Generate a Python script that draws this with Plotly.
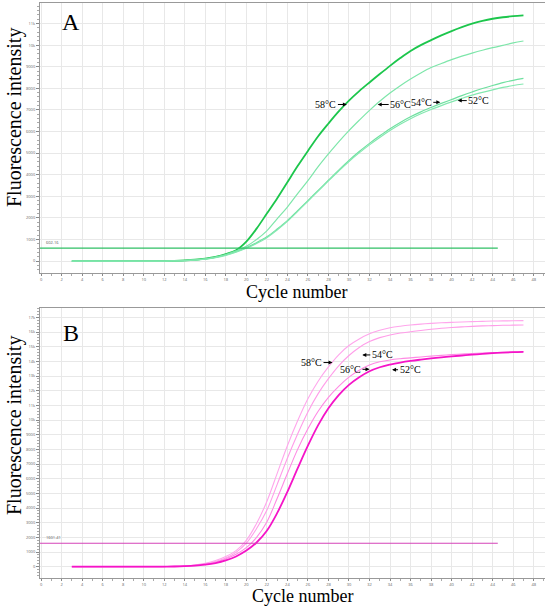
"""qPCR amplification curves at four annealing temperatures (panels A and B)."""

import plotly.graph_objects as go

# ---- data ------------------------------------------------------------------
cycles = list(range(3, 48))
temps = ["58°C", "56°C", "54°C", "52°C"]

# panel A (green)
a_58 = [0] * 10 + [10, 30, 60, 110, 190, 320, 500, 900, 1500, 2200, 2900, 3650, 4400, 5100,
                   5780, 6370, 6930, 7430, 7870, 8270, 8660, 9040, 9400, 9730, 10000, 10230,
                   10450, 10650, 10830, 10990, 11120, 11220, 11290, 11340, 11380]
a_56 = [0] * 10 + [8, 25, 55, 100, 180, 300, 470, 680, 1000, 1400, 1950, 2500, 3120, 3720,
                   4370, 4960, 5520, 6040, 6520, 6980, 7400, 7780, 8120, 8430, 8710, 8960,
                   9150, 9330, 9490, 9630, 9760, 9880, 9990, 10100, 10190]
a_54 = [0] * 10 + [8, 22, 50, 95, 170, 280, 430, 620, 850, 1120, 1480, 1870, 2330, 2800,
                   3270, 3740, 4210, 4660, 5070, 5450, 5800, 6130, 6420, 6680, 6910, 7110,
                   7300, 7480, 7660, 7830, 7990, 8130, 8260, 8370, 8460]
a_52 = [0] * 10 + [8, 20, 45, 90, 160, 265, 410, 590, 810, 1080, 1440, 1840, 2300, 2770,
                   3240, 3710, 4170, 4610, 5010, 5380, 5720, 6040, 6330, 6590, 6820, 7020,
                   7200, 7370, 7530, 7680, 7810, 7930, 8040, 8130, 8200]

# panel B (magenta)
b_58 = [0] * 9 + [10, 25, 60, 120, 230, 420, 700, 1100, 1800, 2950, 4450, 6350, 8250, 9950,
                  11450, 12650, 13620, 14450, 15080, 15530, 15880, 16120, 16290, 16400, 16480,
                  16540, 16590, 16630, 16660, 16690, 16710, 16730, 16750, 16760, 16770, 16780]
b_56 = [0] * 9 + [8, 18, 45, 90, 180, 320, 540, 850, 1300, 2000, 3050, 4650, 6350, 8000,
                  9400, 10600, 11550, 12300, 12930, 13400, 13750, 13970, 14100, 14180, 14240,
                  14300, 14360, 14410, 14460, 14500, 14540, 14570, 14600, 14620, 14640, 14660]
b_54 = [0] * 9 + [8, 20, 50, 100, 200, 360, 600, 980, 1600, 2600, 3850, 5600, 7400, 9050,
                  10550, 11800, 12820, 13700, 14400, 14950, 15350, 15620, 15800, 15930, 16020,
                  16110, 16190, 16260, 16310, 16350, 16390, 16420, 16440, 16460, 16470, 16480]
b_52 = [0] * 9 + [6, 15, 35, 70, 140, 250, 430, 700, 1100, 1650, 2450, 3650, 5100, 6700,
                  8250, 9650, 10800, 11700, 12400, 12920, 13330, 13600, 13780, 13920, 14030,
                  14120, 14200, 14270, 14340, 14400, 14460, 14510, 14560, 14600, 14630, 14650]

thresholds = [600, 1600]
threshold_labels = ["602.16", "1601.41"]
threshold_span = [-0.1, 44.5]

x_ticks = list(range(0, 50, 2))
a_ticks = list(range(0, 12001, 1000))
b_ticks = list(range(0, 17001, 1000))

# ---- styles ------------------------------------------------------------------
SERIF = "Liberation Serif, Times New Roman, serif"
GREEN = {"58°C": ("#1cc64c", 1.8), "56°C": ("#7ee6aa", 1.2),
         "54°C": ("#6fe0a0", 1.2), "52°C": ("#84e8b0", 1.2)}
PINK = {"58°C": ("#ffa6ec", 1.1), "56°C": ("#ff8ae4", 1.1),
        "54°C": ("#ff9de9", 1.1), "52°C": ("#f514c8", 1.8)}

fig = go.Figure()

for name, ys in zip(temps, [a_58, a_56, a_54, a_52]):
    color, width = GREEN[name]
    fig.add_trace(go.Scatter(x=cycles, y=ys, mode="lines", line=dict(color=color, width=width, shape="spline"),
                             name=name, xaxis="x", yaxis="y", showlegend=False))
for name, ys in zip(temps, [b_58, b_56, b_54, b_52]):
    color, width = PINK[name]
    fig.add_trace(go.Scatter(x=cycles, y=ys, mode="lines", line=dict(color=color, width=width, shape="spline"),
                             name=name, xaxis="x2", yaxis="y2", showlegend=False))

for (xa, ya), thr, col in zip([("x", "y"), ("x2", "y2")], thresholds, ["#2fbf64", "#d443b8"]):
    fig.add_trace(go.Scatter(x=threshold_span, y=[thr, thr], mode="lines", line=dict(color=col, width=1.2),
                             xaxis=xa, yaxis=ya, showlegend=False, hoverinfo="skip"))


def xaxis_style(anchor):
    return dict(
        range=[-0.1, 49.1], tickvals=x_ticks, ticks="outside", ticklen=2, tickcolor="#888",
        tickfont=dict(size=4, color="#666"), showgrid=True, gridcolor="#e8e8e8", gridwidth=1,
        zeroline=False, showline=True, linecolor="#999", linewidth=1, mirror=True,
        anchor=anchor, domain=[40 / 550, 545 / 550], automargin=False,
        minor=dict(dtick=1, ticklen=2, tickcolor="#aaa", showgrid=False),
    )


def yaxis_style(anchor, rng, ticks, domain):
    return dict(
        range=rng, tickvals=ticks, ticks="outside", ticklen=3, tickcolor="#888",
        tickfont=dict(size=4, color="#666"), showgrid=True, gridcolor="#e8e8e8", gridwidth=1,
        zeroline=False, showline=True, linecolor="#999", linewidth=1, domain=domain,
        anchor=anchor, automargin=False,
        minor=dict(dtick=200, ticklen=2, tickcolor="#aaa", showgrid=False),
    )


fig.update_layout(
    width=550, height=606, margin=dict(l=0, r=0, t=0, b=0, autoexpand=False),
    paper_bgcolor="white", plot_bgcolor="white",
    xaxis=xaxis_style("y"),
    yaxis=yaxis_style("x", [-554, 11950], a_ticks, [1 - 273 / 606, 1 - 3 / 606]),
    xaxis2=xaxis_style("y2"),
    yaxis2=yaxis_style("x2", [-770, 17640], b_ticks, [1 - 578 / 606, 1 - 308 / 606]),
)

# temperature labels with short arrows: (text, head cycle, head value, text offset px)
labels_a = [("58°C", 29.8, 7250, -21), ("56°C", 32.8, 7250, 23), ("54°C", 38.9, 7350, -19), ("52°C", 40.6, 7430, 21)]
labels_b = [("58°C", 28.4, 13920, -21), ("54°C", 31.3, 14440, 20), ("56°C", 32.0, 13460, -19), ("52°C", 34.2, 13430, 18)]

annotations = []
for labels, xr, yr in [(labels_a, "x", "y"), (labels_b, "x2", "y2")]:
    for text, hx, hy, off in labels:
        annotations.append(dict(
            x=hx, y=hy, xref=xr, yref=yr, text=text, showarrow=True, ax=off, ay=0,
            arrowhead=2, arrowsize=0.8, arrowwidth=1, arrowcolor="black", standoff=0,
            font=dict(family=SERIF, size=10, color="black"),
        ))

for text, xr, yr, thr in [(threshold_labels[0], "x", "y", thresholds[0]), (threshold_labels[1], "x2", "y2", thresholds[1])]:
    annotations.append(dict(x=0.3, y=thr, xref=xr, yref=yr, text=text, showarrow=False, xanchor="left",
                            yanchor="bottom", yshift=1, font=dict(size=4, color="#555")))


# panel letters and axis titles (positions in page pixels)
def paper_text(text, px, py, size, angle=0):
    return dict(x=px / 550, y=1 - py / 606, xref="paper", yref="paper", text=text, showarrow=False,
                xanchor="center", yanchor="middle", textangle=angle, borderpad=0,
                font=dict(family=SERIF, size=size, color="black"))


for letter, py in [("A", 22), ("B", 333)]:
    annotations.append(paper_text(letter, 71, py, 24))
for py in [118, 426]:
    annotations.append(paper_text("Fluorescence intensity", 14, py, 20, -90))
for px, py in [(296, 292), (302, 596)]:
    annotations.append(paper_text("Cycle number", px, py, 18))

fig.update_layout(annotations=annotations)

# drop the default 8px page margin so the figure fills the window exactly
fig.write_html("out.html", config={"displayModeBar": False},
               post_script="document.body.style.margin='0';")
